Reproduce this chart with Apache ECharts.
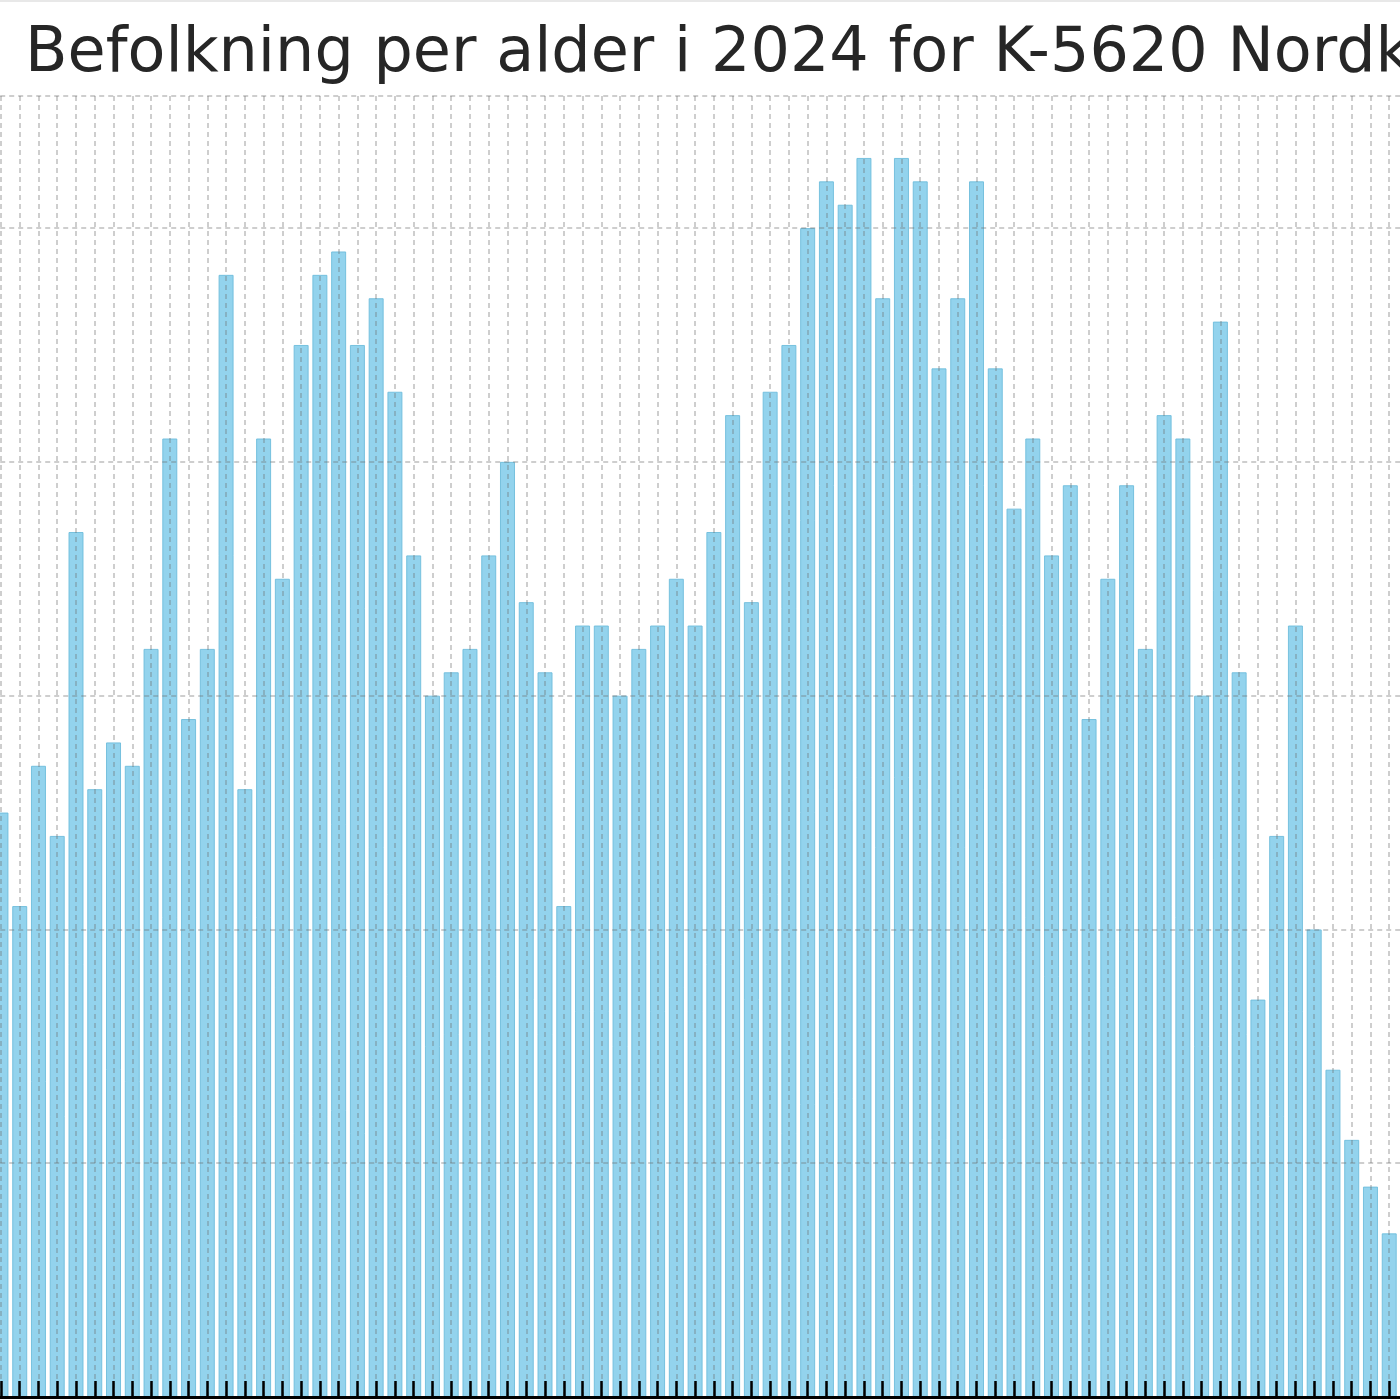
<!DOCTYPE html>
<html>
<head>
<meta charset="utf-8">
<title>Befolkning per alder</title>
<script src="https://cdn.jsdelivr.net/npm/echarts@6/dist/echarts.min.js"></script>
<style>
  html, body { margin: 0; padding: 0; background: #fff; }
  #chart { width: 1400px; height: 1400px; }
</style>
</head>
<body>
<div id="chart"></div>
<script>
// ages on the x axis (one bar per year of age)
const ages = [
  0, 1, 2, 3, 4, 5, 6, 7, 8, 9,
  10, 11, 12, 13, 14, 15, 16, 17, 18, 19,
  20, 21, 22, 23, 24, 25, 26, 27, 28, 29,
  30, 31, 32, 33, 34, 35, 36, 37, 38, 39,
  40, 41, 42, 43, 44, 45, 46, 47, 48, 49,
  50, 51, 52, 53, 54, 55, 56, 57, 58, 59,
  60, 61, 62, 63, 64, 65, 66, 67, 68, 69,
  70, 71, 72, 73, 74
]
// number of persons per age
const persons = [
  25, 21, 27, 24, 37, 26, 28, 27, 32, 41,
  29, 32, 48, 26, 41, 35, 45, 48, 49, 45,
  47, 43, 36, 30, 31, 32, 36, 40, 34, 31,
  21, 33, 33, 30, 32, 33, 35, 33, 37, 42,
  34, 43, 45, 50, 52, 51, 53, 47, 53, 52,
  44, 47, 52, 44, 38, 41, 36, 39, 29, 35,
  39, 32, 42, 41, 30, 46, 31, 17, 24, 33,
  20, 14, 11, 9, 7
]
const yMax = 55.65
const titleText = 'Befolkning per alder i 2024 for K-5620 Nordkapp'

const chart = echarts.init(document.getElementById('chart'))

// grid lines sit on top of the bars, like the original
const gridLine = { color: 'rgba(110,110,110,0.45)', type: [5, 4], width: 1.5 }

chart.setOption({
  backgroundColor: '#fff',
  animation: false,
  title: {
    text: titleText,
    left: 20,
    top: 19,
    textStyle: {
      fontFamily: 'DejaVu Sans',
      fontSize: 62,
      fontWeight: 'normal',
      color: '#262626'
    }
  },
  graphic: [{
    type: 'rect',
    shape: { x: 0, y: 0, width: 1400, height: 2 },
    style: { fill: '#e8e8e8' }
  }],
  grid: {
    left: -17.8,
    right: -8,
    top: 96,
    bottom: 3,
    outerBoundsMode: 'none',
    containLabel: false
  },
  xAxis: {
    type: 'value',
    min: -1,
    max: 75,
    interval: 1,
    z: 5,
    axisLine: { show: true, lineStyle: { color: '#000', width: 3 } },
    axisTick: { show: true, inside: true, length: 16, lineStyle: { color: '#000', width: 2.5 } },
    axisLabel: { show: false },
    splitLine: { show: true, lineStyle: gridLine }
  },
  yAxis: {
    type: 'value',
    min: 0,
    max: yMax,
    interval: 10,
    z: 5,
    axisLine: { show: false },
    axisTick: { show: false },
    axisLabel: { show: false },
    splitLine: { show: true, lineStyle: gridLine }
  },
  series: [{
    type: 'bar',
    data: ages.map((a, i) => [a, persons[i]]),
    barWidth: 15,
    itemStyle: {
      color: 'rgba(135,206,235,0.9)',
      borderColor: 'rgba(110,188,220,0.9)',
      borderWidth: 1
    }
  }]
})
</script>
</body>
</html>
